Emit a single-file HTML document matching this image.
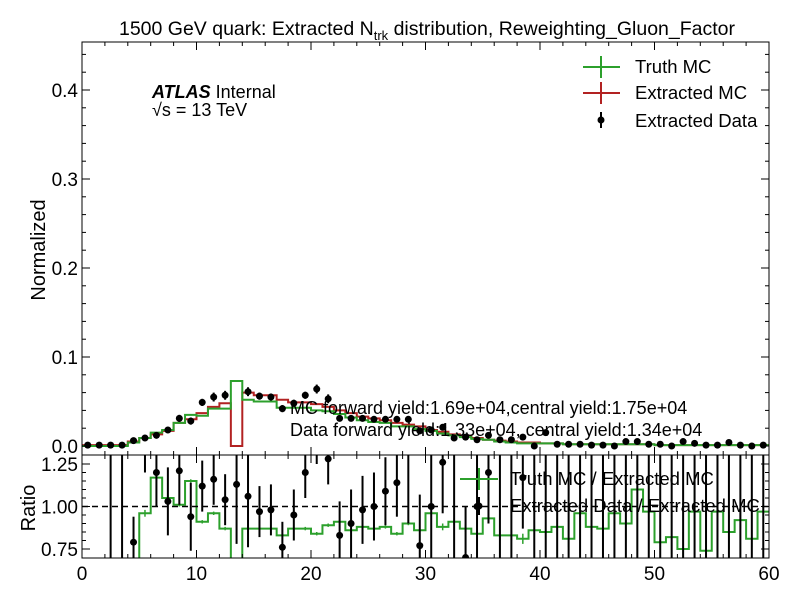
<!DOCTYPE html>
<html><head><meta charset="utf-8"><style>
html,body{margin:0;background:#fff;overflow:hidden;width:799px;height:599px}
svg{display:block}
svg text{font-family:"Liberation Sans",sans-serif}
</style></head><body>
<svg id="c" width="799" height="599" style="position:absolute;left:0;top:0" xmlns="http://www.w3.org/2000/svg"></svg>
<script>
const dataVals=[0.001,0.001,0.001,0.001,0.006,0.009,0.012,0.018,0.031,0.028,0.049,0.055,0.057,null,0.061,0.056,0.055,0.042,0.048,0.057,0.064,0.053,0.031,0.031,0.031,0.030,0.030,0.030,0.030,0.017,0.018,0.021,0.009,0.010,0.007,0.012,0.007,0.007,0.010,0.000,0.015,0.002,0.002,0.002,0.001,0.001,0.000,0.005,0.005,0.002,0.002,0.000,0.005,0.003,0.001,0.001,0.004,0.001,0.000,0.001];
const extMC=[0.001,0.001,0.001,0.001,0.005,0.009,0.013,0.017,0.026,0.030,0.037,0.044,0.048,0.000,0.060,0.057,0.057,0.052,0.049,0.049,0.047,0.044,0.040,0.037,0.033,0.031,0.029,0.026,0.024,0.022,0.018,0.016,0.013,0.011,0.009,0.007,0.006,0.005,0.004,0.004,0.003,0.003,0.002,0.002,0.002,0.002,0.002,0.002,0.002,0.002,0.001,0.001,0.001,0.001,0.001,0.001,0.001,0.001,0.001,0.001];
const truthMC=[0.000,0.000,0.000,0.000,0.004,0.009,0.015,0.018,0.026,0.035,0.034,0.042,0.042,0.073,0.052,0.050,0.050,0.043,0.043,0.043,0.040,0.039,0.036,0.032,0.029,0.027,0.026,0.022,0.022,0.019,0.017,0.014,0.012,0.010,0.008,0.007,0.005,0.004,0.003,0.003,0.003,0.003,0.002,0.002,0.002,0.002,0.002,0.002,0.002,0.002,0.001,0.001,0.001,0.001,0.001,0.001,0.001,0.001,0.001,0.001];
const dataErr=[0.001,0.001,0.001,0.001,0.002,0.002,0.002,0.003,0.004,0.004,0.004,0.005,0.005,0.005,0.005,0.004,0.004,0.004,0.004,0.004,0.005,0.005,0.003,0.003,0.003,0.003,0.003,0.003,0.003,0.003,0.003,0.003,0.002,0.002,0.002,0.002,0.002,0.002,0.002,0.002,0.002,0.001,0.001,0.001,0.001,0.001,0.001,0.001,0.001,0.001,0.001,0.001,0.001,0.001,0.001,0.001,0.001,0.001,0.001,0.001];
const ratioTruth=[0,0,0,0,0.60,0.96,1.17,1.05,1.01,1.15,0.91,0.96,0.87,0,0.87,0.87,0.87,0.83,0.87,0.87,0.84,0.89,0.91,0.86,0.88,0.87,0.88,0.84,0.90,0.86,0.96,0.88,0.91,0.87,0.84,0.93,0.83,0.83,0.81,0.86,0.85,0.88,0.81,0.96,0.88,0.87,0.96,0.90,1.10,0.97,0.79,0.82,0.75,0.97,0.74,0.97,0.85,0.92,0.81,0.97];
const ratioTruthErr=[0,0,0,0,0.02,0.02,0.02,0.02,0.01,0.01,0.01,0.01,0.01,0,0.01,0.01,0.01,0.01,0.01,0.01,0.01,0.01,0.01,0.01,0.01,0.01,0.01,0.01,0.01,0.01,0.02,0.02,0.02,0.02,0.02,0.02,0.03,0.03,0.03,0.03,0.04,0.05,0.05,0.05,0.06,0.06,0.1,0.1,0.15,0.1,0.1,0.1,0.1,0.15,0.1,0.15,0.1,0.05,0.05,0.05];
const ratioData=[2.0,2.0,1.5,1.5,0.79,1.4,1.20,1.03,1.21,0.94,1.12,1.16,1.04,1.13,1.06,0.97,0.98,0.76,0.95,1.20,1.45,1.28,0.83,0.90,0.98,1.00,1.09,1.14,1.4,0.77,1.00,1.26,1.5,0.70,1.00,1.20,1.5,1.5,1.17,0.5,1.6,1.6,1.6,1.6,1.6,1.6,1.6,1.6,1.6,1.6,1.6,1.6,1.6,1.6,1.6,1.6,1.6,1.6,1.6,1.6];
const ratioDataErr=[0,0,1,1,0.15,0.2,0.2,0.2,0.2,0.2,0.15,0.15,0.15,0.35,0.3,0.15,0.15,0.15,0.15,0.15,0.2,0.15,0.2,0.2,0.2,0.2,0.2,0.2,0.5,0.3,0.3,0.3,1,0.3,0.3,0.3,1,1,0.3,1,1.5,1.5,1.5,1.5,1.5,1.5,1.5,1.5,1.5,1.5,1.5,1.5,1.5,1.5,1.5,1.5,1.5,1.5,1.5,1.5];
const xTicks=[0,10,20,30,40,50,60];
const yTicks=[0.0,0.1,0.2,0.3,0.4];
const rTicks=[0.75,1.00,1.25];

const L=82,R=769,T=42,MB=455,RB=558;
const X=v=>L+v*(R-L)/60;
const Y=v=>446-v*890;
const RY=v=>506.5-(v-1)*170;
const cl=(y,a,b)=>Math.max(a,Math.min(b,y));
const svg=document.getElementById('c');
const NS='http://www.w3.org/2000/svg';
function mk(tag,attrs,parent){const e=document.createElementNS(NS,tag);for(const k in attrs)e.setAttribute(k,attrs[k]);(parent||svg).appendChild(e);return e;}
const defs=mk('defs',{});
const cp1=mk('clipPath',{id:'cm'},defs);mk('rect',{x:L,y:T,width:R-L,height:MB-T},cp1);
const cp2=mk('clipPath',{id:'cr'},defs);mk('rect',{x:L,y:MB,width:R-L,height:RB-MB},cp2);
const gM=mk('g',{'clip-path':'url(#cm)'});


const gR=mk('g',{'clip-path':'url(#cr)'});



function stepPath(vals,yf,a,b){let d='';for(let i=0;i<vals.length;i++){const y=cl(yf(vals[i]),a,b);d+=(i==0?'M':'L')+X(i)+','+y+'L'+X(i+1)+','+y;}return d;}
const pe=mk('path',{d:stepPath(extMC,Y,T,MB+2),fill:'none',stroke:'#b22222','stroke-width':2},gM);


const pt=mk('path',{d:stepPath(truthMC,Y,T,MB+2),fill:'none',stroke:'#2ca02c','stroke-width':2},gM);


dataVals.forEach((v,i)=>{if(v===null)return;const cx=X(i+0.5);
 mk('line',{x1:cx,x2:cx,y1:Y(v+dataErr[i]),y2:Y(v-dataErr[i]),stroke:'#000','stroke-width':2},gM);
 const c=mk('circle',{cx:cx,cy:Y(v),r:3.5,fill:'#000'},gM);
 
 });
const rt=mk('path',{d:stepPath(ratioTruth,RY,MB-2,RB+2),fill:'none',stroke:'#2ca02c','stroke-width':2},gR);


ratioTruth.forEach((v,i)=>{const cx=X(i+0.5);mk('line',{x1:cx,x2:cx,y1:cl(RY(v+ratioTruthErr[i]),MB,RB),y2:cl(RY(v-ratioTruthErr[i]),MB,RB),stroke:'#2ca02c','stroke-width':1.5},gR);});
mk('line',{x1:L,x2:R,y1:RY(1),y2:RY(1),stroke:'#000','stroke-width':1.5,'stroke-dasharray':'6,4'},gR);
ratioData.forEach((v,i)=>{const cx=X(i+0.5);
 if(ratioDataErr[i]>0)mk('line',{x1:cx,x2:cx,y1:cl(RY(v+ratioDataErr[i]),MB,RB),y2:cl(RY(v-ratioDataErr[i]),MB,RB),stroke:'#000','stroke-width':2},gR);
 const cy=RY(v);if(cy<MB-5||cy>RB+5)return;
 const c=mk('circle',{cx:cx,cy:cy,r:3.5,fill:'#000'},gR);
 
 });
mk('rect',{x:L,y:T,width:R-L,height:MB-T,fill:'none',stroke:'#000','stroke-width':1});
mk('rect',{x:L,y:MB,width:R-L,height:RB-MB,fill:'none',stroke:'#000','stroke-width':1});
function tk(x1,y1,x2,y2){mk('line',{x1,y1,x2,y2,stroke:'#000','stroke-width':1});}
for(let v=0;v<=60;v+=2){const x=X(v),L2=(v%10==0)?8:4;tk(x,T,x,T+L2);tk(x,MB,x,MB-L2);tk(x,MB,x,MB+L2);tk(x,RB,x,RB-L2);}
for(let v=0;v<=0.45;v+=0.02){const y=Y(v),maj=Math.abs(v*10-Math.round(v*10))<1e-6,l=maj?8:4;tk(L,y,L+l,y);tk(R,y,R-l,y);}
for(let v=0.75;v<=1.3;v+=0.05){const y=RY(v),maj=Math.abs(v*4-Math.round(v*4))<1e-6,l=maj?8:4;tk(L,y,L+l,y);tk(R,y,R-l,y);}
function tx(s,x,y,o){const e=mk('text',Object.assign({x,y,'font-size':19,fill:'#000'},o||{}));e.textContent=s;return e;}
xTicks.forEach(v=>{const e=tx(String(v),X(v),580,{'text-anchor':'middle'});});
yTicks.forEach(v=>{const e=tx(v.toFixed(1),78,Y(v)+7,{'text-anchor':'end'});});
rTicks.forEach(v=>{const e=tx(v.toFixed(2),78,RY(v)+7,{'text-anchor':'end'});});
</script>
<svg width="799" height="599" style="position:absolute;left:0;top:0" xmlns="http://www.w3.org/2000/svg">
<text x="427" y="35" text-anchor="middle" font-size="19.5" font-family="Liberation Sans">1500 GeV quark: Extracted N<tspan font-size="13" dy="5">trk</tspan><tspan dy="-5"> distribution, Reweighting_Gluon_Factor</tspan></text>
<text transform="translate(45,250) rotate(-90)" text-anchor="middle" font-size="20" font-family="Liberation Sans">Normalized</text>
<text transform="translate(35,508) rotate(-90)" text-anchor="middle" font-size="20" font-family="Liberation Sans">Ratio</text>
<text x="152" y="98" font-size="18" font-family="Liberation Sans"><tspan font-weight="bold" font-style="italic">ATLAS</tspan> Internal</text>
<text x="152" y="116" font-size="18" font-family="Liberation Sans">√s =  13 TeV</text>
<g font-family="Liberation Sans" font-size="18.5">
<line x1="583" x2="620" y1="67" y2="67" stroke="#2ca02c" stroke-width="2"/><line x1="601" x2="601" y1="56" y2="78" stroke="#2ca02c" stroke-width="2"/>
<text x="635" y="73">Truth MC</text>
<line x1="583" x2="620" y1="93" y2="93" stroke="#b22222" stroke-width="2"/><line x1="601" x2="601" y1="82" y2="104" stroke="#b22222" stroke-width="2"/>
<text x="635" y="99">Extracted MC</text>
<line x1="601" x2="601" y1="112" y2="128" stroke="#000" stroke-width="2"/><circle cx="601" cy="120" r="3.5"/>
<text x="635" y="127">Extracted Data</text>
</g>
<text x="290" y="414" font-size="18" font-family="Liberation Sans">MC forward yield:1.69e+04,central yield:1.75e+04</text>
<text x="290" y="436" font-size="18" font-family="Liberation Sans">Data forward yield:1.33e+04, central yield:1.34e+04</text>
<g font-family="Liberation Sans" font-size="18.5">
<line x1="460" x2="498" y1="479" y2="479" stroke="#2ca02c" stroke-width="2"/><line x1="479" x2="479" y1="468" y2="490" stroke="#2ca02c" stroke-width="2"/>
<text x="510" y="485">Truth MC / Extracted MC</text>
<line x1="479" x2="479" y1="497" y2="515" stroke="#000" stroke-width="2"/><circle cx="479" cy="506" r="3.5"/>
<text x="510" y="512">Extracted Data / Extracted MC</text>
</g>
</svg>
</body></html>
